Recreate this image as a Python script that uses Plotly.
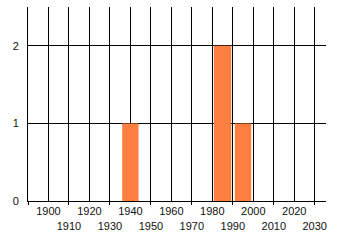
import plotly.graph_objects as go

bar_x = [1940, 1985, 1995]
bar_y = [1, 2, 1]
bar_w = [8, 8.5, 8]
tick_years = list(range(1890, 2031, 10))
tick_labels = ["" if y == 1890 else (str(y) if (y // 10) % 2 == 0 else "<br>" + str(y)) for y in tick_years]
minor_ticks = list(range(1890, 2031, 20))
y_ticks = [0, 1, 2]

fig = go.Figure()
fig.add_trace(go.Bar(x=bar_x, y=bar_y, width=bar_w, marker=dict(color="#FF7F40", line=dict(width=0)),
                     showlegend=False))
fig.update_layout(
    width=340, height=245,
    margin=dict(l=28, r=14, t=7, b=44),
    paper_bgcolor="white", plot_bgcolor="white",
    font=dict(family="Liberation Sans, Arial, sans-serif", size=11, color="#111111"),
    xaxis=dict(range=[1890, 2035.5], tickvals=tick_years, ticktext=tick_labels,
               showgrid=True, gridcolor="black", gridwidth=1, zeroline=False,
               showline=True, linecolor="black", linewidth=1, ticks="", tickangle=0),
    xaxis2=dict(range=[1890, 2035.5], overlaying="x", anchor="y", side="bottom",
                tickvals=minor_ticks, ticktext=["" for _ in minor_ticks], ticks="outside",
                ticklen=3, tickcolor="black", showgrid=False, zeroline=False, showline=False),
    yaxis=dict(range=[0, 2.5], tickvals=y_ticks, showgrid=True, gridcolor="black", gridwidth=1,
               zeroline=False, showline=True, linecolor="black", linewidth=1, ticks="",
               ticklabelstandoff=6),
)
fig.add_trace(go.Scatter(x=[1890], y=[0], xaxis="x2", mode="markers", marker=dict(opacity=0),
                         showlegend=False, hoverinfo="skip"))
fig.write_html("out.html")
